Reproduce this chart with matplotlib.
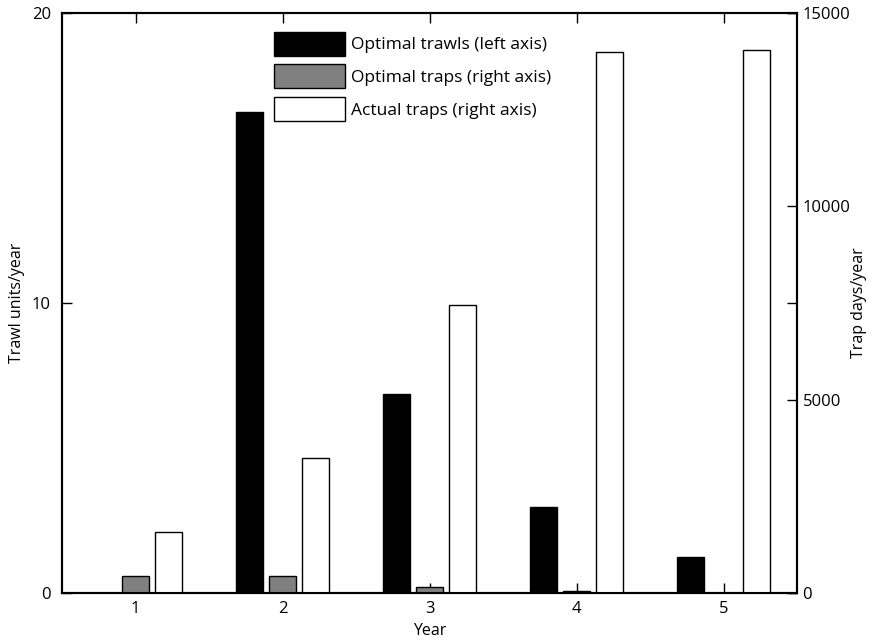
import matplotlib
matplotlib.use("Agg")
import matplotlib.pyplot as plt
import numpy as np

plt.rcParams['font.family'] = ['Open Sans', 'DejaVu Sans']
plt.rcParams['font.size'] = 12

years = [1, 2, 3, 4, 5]
optimal_trawls = [0.0, 16.6, 6.85, 2.95, 1.25]        # left axis, trawl units/year
optimal_traps = [440, 450, 150, 60, 0]                 # right axis, trap days/year
actual_traps = [1580, 3490, 7450, 14000, 14050]        # right axis, trap days/year

fig = plt.figure(figsize=(8.72, 6.43), dpi=100)
ax1 = fig.add_axes([0.0711, 0.0778, 0.8429, 0.902])
ax2 = ax1.twinx()

x = np.array(years, dtype=float)
w = 0.185
off = 0.222

ax1.bar(x - off, optimal_trawls, w, color='black', edgecolor='black', linewidth=1,
        label='Optimal trawls (left axis)')
h2 = ax2.bar(x, optimal_traps, w, color='#808080', edgecolor='black', linewidth=1,
             label='Optimal traps (right axis)')
h3 = ax2.bar(x + off, actual_traps, w, color='white', edgecolor='black', linewidth=1,
             label='Actual traps (right axis)')

ax1.set_xlim(0.5, 5.5)
ax1.set_ylim(0, 20)
ax2.set_ylim(0, 15000)

ax1.set_xticks(years)
ax1.set_yticks([0, 10, 20])
ax2.set_yticks([0, 5000, 10000, 15000])

ax1.tick_params(axis='both', direction='in', length=7, width=1, top=True, right=True,
                labelsize=12, colors='black')
ax1.tick_params(axis='y', pad=8)
ax1.tick_params(axis='x', pad=6)
ax2.tick_params(axis='y', direction='in', length=7, width=1, labelsize=12, pad=4)

for a in (ax1, ax2):
    for s in a.spines.values():
        s.set_linewidth(1.5)

ax1.set_xlabel('Year', fontsize=11.5)
ax1.set_ylabel('Trawl units/year', fontsize=11.5)
ax2.set_ylabel('Trap days/year', fontsize=11.5)
ax1.xaxis.set_label_coords(0.5, -0.052)
ax1.yaxis.set_label_coords(-0.05, 0.5)
ax2.yaxis.set_label_coords(1.074, 0.5)

handles = [ax1.containers[0], h2, h3]
ax2.legend(handles=handles, loc='upper left', bbox_to_anchor=(0.288, 0.968),
           frameon=False, handlelength=4.1, handleheight=1.75, handletextpad=0.35,
           labelspacing=0.5, borderpad=0, borderaxespad=0, fontsize=12.5)

fig.savefig('out.png', dpi=100)
